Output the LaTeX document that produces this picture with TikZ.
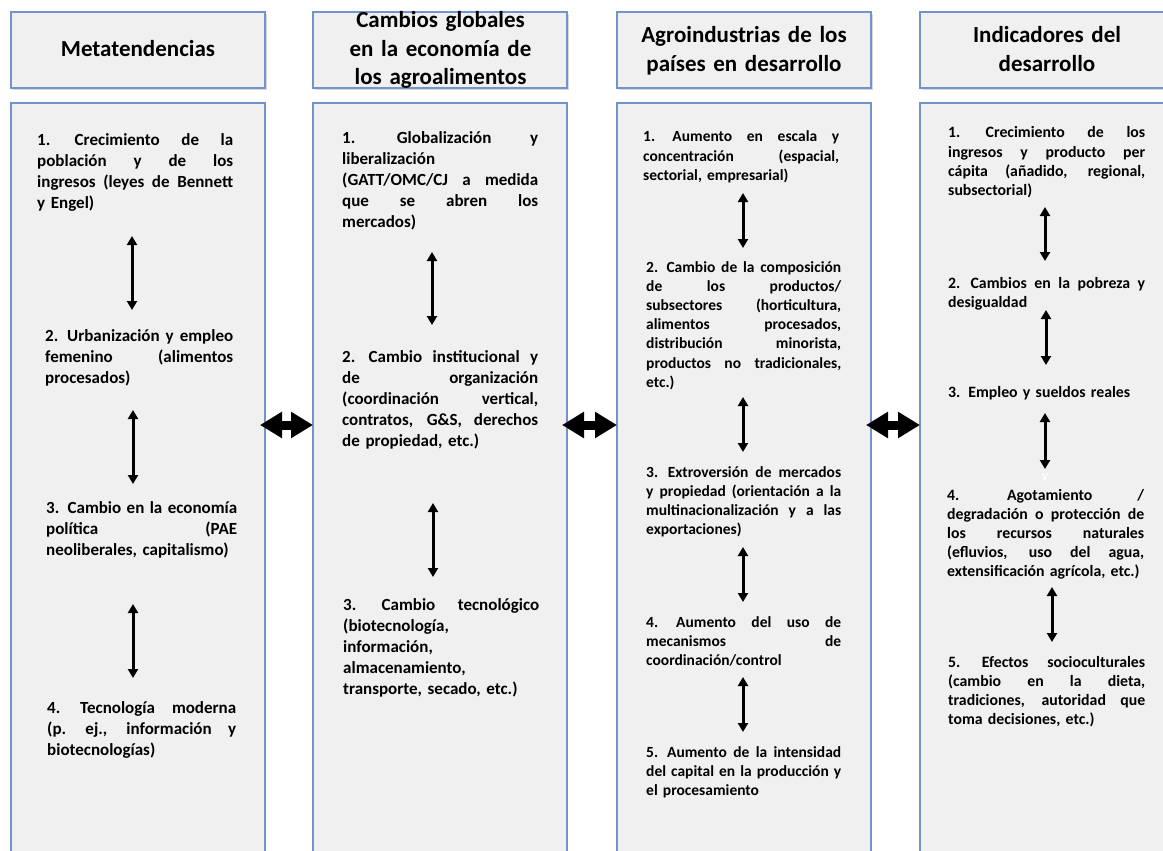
\documentclass[tikz,border=0pt]{standalone}
\usepackage{fontspec}
\setmainfont{Carlito}
\usetikzlibrary{arrows.meta,shadows}
\definecolor{boxfill}{RGB}{240,240,240}
\definecolor{boxline}{RGB}{114,147,203}
\setlength{\parindent}{0pt}
% a justified line: interword spaces stretched to the full column width
\newcommand\colw{196pt}
\newcommand\jl[1]{\makebox[\colw][s]{\spaceskip=.3333em plus 1fil minus .1em
  \xspaceskip=.5em plus 1fil minus .1em\relax #1}}

\begin{document}
\begin{tikzpicture}[x=1pt,y=-1pt,
  panel/.style={draw=boxline, line width=1.2pt, fill=boxfill, rectangle,
    inner sep=0pt, outer sep=0pt, anchor=north west, minimum width=254pt},
  headbox/.style={panel, minimum height=76pt,
    drop shadow={shadow xshift=1.5pt, shadow yshift=-2.5pt, opacity=.3}},
  bodybox/.style={panel, minimum height=780pt},
  headtext/.style={anchor=base, inner sep=0pt, align=center, text width=250pt,
    font=\bfseries\fontsize{23}{28.5}\selectfont},
  col/.style={text width=#1, execute at begin node={\def\colw{#1}}},
  bigtext/.style={anchor=base west, inner sep=0pt, align=left,
    font=\bfseries\fontsize{17}{21.2}\selectfont, col=#1},
  smalltext/.style={anchor=base west, inner sep=0pt, align=left,
    font=\bfseries\fontsize{15.5}{19.2}\selectfont, col=#1},
  righttext/.style={anchor=base west, inner sep=0pt, align=left,
    font=\bfseries\fontsize{15.8}{19.2}\selectfont, col=#1},
  varrow/.style={line width=3pt,
    {Triangle[width=10pt,length=9pt]}-{Triangle[width=10pt,length=9pt]}},
  harrow/.style={line width=9pt,
    {Triangle[width=25pt,length=22pt]}-{Triangle[width=25pt,length=22pt]}},
]
\useasboundingbox (0,0) rectangle (1163,851);
\clip (0,0) rectangle (1163,851);

% column frames
\node[headbox] (h1) at (11,12) {};
\node[headbox] (h2) at (313,12) {};
\node[headbox] (h3) at (617,12) {};
\node[headbox, minimum width=258pt] (h4) at (920,12) {};
\node[bodybox] (b1) at (11,103) {};
\node[bodybox] (b2) at (313,103) {};
\node[bodybox] (b3) at (617,103) {};
\node[bodybox, minimum width=258pt] (b4) at (920,103) {};

% column titles
\node[headtext] (t1) at (138,57) {Metatendencias};
\node[headtext] (t2) at (440.5,28) {Cambios globales\\en la economía de\\los agroalimentos};
\node[headtext] (t3) at (744,43) {Agroindustrias de los\\países en desarrollo};
\node[headtext] (t4) at (1047,43) {Indicadores del\\desarrollo};

% column 1
\node[bigtext=196pt] (c1a) at (37,145) {\jl{1. Crecimiento de la}\\\jl{población y de los}\\\jl{ingresos (leyes de Bennett}\\y Engel)};
\node[bigtext=188pt] (c1b) at (45,341) {\jl{2. Urbanización y empleo}\\\jl{femenino (alimentos}\\procesados)};
\node[bigtext=191pt] (c1c) at (46,513) {\jl{3. Cambio en la economía}\\\jl{política (PAE}\\neoliberales, capitalismo)};
\node[bigtext=189pt] (c1d) at (47,713) {\jl{4. Tecnología moderna}\\\jl{(p. ej., información y}\\biotecnologías)};

% column 2
\node[bigtext=196pt] (c2a) at (342,143) {\jl{1. Globalización y}\\liberalización\\\jl{(GATT/OMC/CJ a medida}\\\jl{que se abren los}\\mercados)};
\node[bigtext=196pt] (c2b) at (342,362) {\jl{2. Cambio institucional y}\\\jl{de organización}\\\jl{(coordinación vertical,}\\\jl{contratos, G\&S, derechos}\\de propiedad, etc.)};
\node[bigtext=196pt] (c2c) at (343,610) {\jl{3. Cambio tecnológico}\\(biotecnología,\\información,\\almacenamiento,\\transporte, secado, etc.)};

% column 3
\node[smalltext=196pt] (c3a) at (643,142) {\jl{1. Aumento en escala y}\\\jl{concentración (espacial,}\\sectorial, empresarial)};
\node[smalltext=195pt] (c3b) at (646,272) {\jl{2. Cambio de la composición}\\\jl{de los productos/}\\\jl{subsectores (horticultura,}\\\jl{alimentos procesados,}\\\jl{distribución minorista,}\\\jl{productos no tradicionales,}\\etc.)};
\node[smalltext=195pt] (c3c) at (646,477) {\jl{3. Extroversión de mercados}\\\jl{y propiedad (orientación a la}\\\jl{multinacionalización y a las}\\exportaciones)};
\node[smalltext=195pt] (c3d) at (646,627) {\jl{4. Aumento del uso de}\\\jl{mecanismos de}\\coordinación/control};
\node[smalltext=195pt] (c3e) at (646,757) {\jl{5. Aumento de la intensidad}\\\jl{del capital en la producción y}\\el procesamiento};

% column 4
\node[righttext=197pt] (c4a) at (948,138) {\jl{1. Crecimiento de los}\\\jl{ingresos y producto per}\\\jl{cápita (añadido, regional,}\\subsectorial)};
\node[righttext=197pt] (c4b) at (948,288) {\jl{2. Cambios en la pobreza y}\\desigualdad};
\node[righttext=197pt] (c4c) at (948,397) {3. Empleo y sueldos reales};
\node[righttext=197pt] (c4d) at (947,500) {\jl{4. Agotamiento /}\\\jl{degradación o protección de}\\\jl{los recursos naturales}\\\jl{(efluvios, uso del agua,}\\extensificación agrícola, etc.)};
\node[righttext=197pt] (c4e) at (948,667) {\jl{5. Efectos socioculturales}\\\jl{(cambio en la dieta,}\\\jl{tradiciones, autoridad que}\\toma decisiones, etc.)};
\node[text=white, inner sep=0pt, font=\bfseries\fontsize{14}{14}\selectfont] (vmark) at (1045,477) {v};

% end points of the vertical links
\coordinate (p11) at (132,236); \coordinate (q11) at (132,310);
\coordinate (p12) at (133,410); \coordinate (q12) at (133,484);
\coordinate (p13) at (133,604); \coordinate (q13) at (133,678);
\coordinate (p21) at (432,252); \coordinate (q21) at (432,325);
\coordinate (p22) at (433,503); \coordinate (q22) at (433,577);
\coordinate (p31) at (743,193); \coordinate (q31) at (743,248);
\coordinate (p32) at (743,397); \coordinate (q32) at (743,452);
\coordinate (p33) at (743,547); \coordinate (q33) at (743,602);
\coordinate (p34) at (743,677); \coordinate (q34) at (743,732);
\coordinate (p41) at (1045,207); \coordinate (q41) at (1045,261);
\coordinate (p42) at (1046,310); \coordinate (q42) at (1046,365);
\coordinate (p43) at (1045,413); \coordinate (q43) at (1045,469);
\coordinate (p44) at (1052,587); \coordinate (q44) at (1052,642);
\foreach \a in {11,12,13,21,22,31,32,33,34,41,42,43,44}
  \draw[varrow] (p\a) -- (q\a);

% links between the columns
\coordinate (hy) at (0,425);
\draw[harrow, shorten <=-5pt] (b1.east |- hy) -- (b2.west |- hy);
\draw[harrow, shorten <=-5pt] (b2.east |- hy) -- (b3.west |- hy);
\draw[harrow, shorten <=-5pt] (b3.east |- hy) -- (b4.west |- hy);
\end{tikzpicture}
\end{document}
